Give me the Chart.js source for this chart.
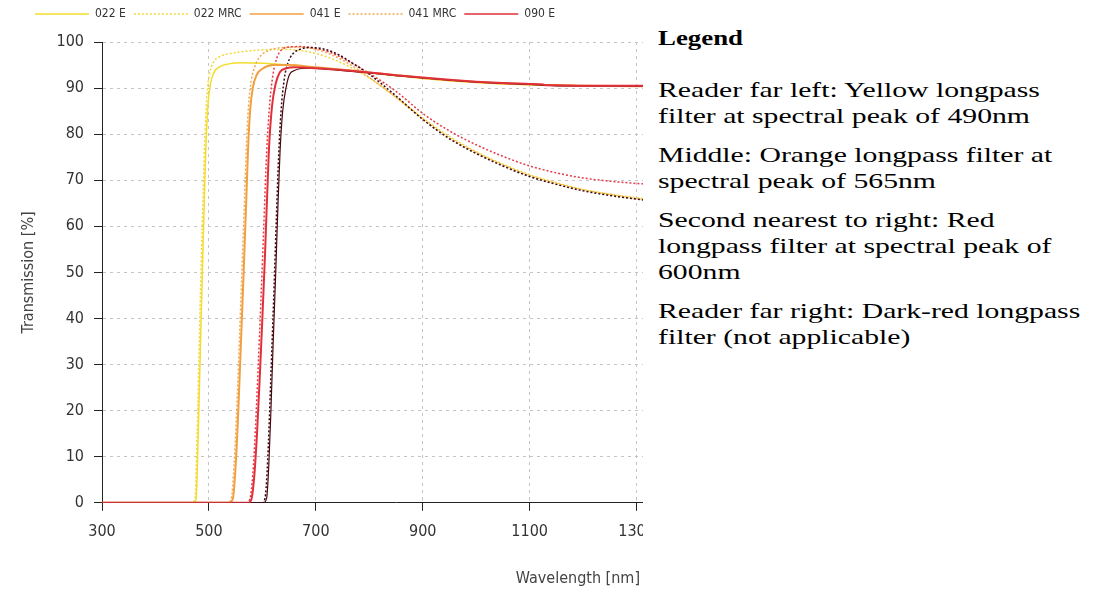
<!DOCTYPE html>
<html>
<head>
<meta charset="utf-8">
<script src="https://cdn.jsdelivr.net/npm/chart.js@4.4.1/dist/chart.umd.min.js"></script>
<style>
  html, body { margin: 0; padding: 0; background: #fff; }
  body { width: 1103px; height: 592px; position: relative; overflow: hidden; }
  #chartWrap { position: absolute; left: 0; top: 0; width: 643px; height: 592px; overflow: hidden; }
  #chart { position: absolute; left: 0; top: 0; }
  #xTitle { position: absolute; right: 3px; top: 568px; font-family: 'DejaVu Sans Condensed', 'Liberation Sans Narrow', sans-serif; font-size: 16px; color: #444; white-space: nowrap; }
  .txt { position: absolute; left: 658px; font-family: 'Liberation Serif', 'Times New Roman', serif; font-size: 22px; line-height: 26px; color: #000; white-space: nowrap; transform: scaleX(1.35); transform-origin: 0 0; }
  .txt.hd { font-weight: bold; transform: scaleX(1.22); }
</style>
</head>
<body>
<div id="chartWrap">
  <canvas id="chart" width="700" height="592"></canvas>
  <div id="xTitle">Wavelength [nm]</div>
</div>
<div class="txt hd" style="top:25px">Legend</div>
<div class="txt" style="top:77px">Reader far left: Yellow longpass<br>filter at spectral peak of 490nm</div>
<div class="txt" style="top:142px">Middle: Orange longpass filter at<br>spectral peak of 565nm</div>
<div class="txt" style="top:207px">Second nearest to right: Red<br>longpass filter at spectral peak of<br>600nm</div>
<div class="txt" style="top:298px">Reader far right: Dark-red longpass<br>filter (not applicable)</div>
<script>
// ---- data (wavelength nm, transmission %) ----
const seriesNames = ['022 E', '022 MRC', '041 E', '041 MRC', '090 E', '090 MRC', '091 E', '091 MRC'];
const xTicks = [300, 500, 700, 900, 1100, 1300];
const yTicks = [0, 10, 20, 30, 40, 50, 60, 70, 80, 90, 100];

const wl022E  = [300, 470, 476, 480, 485, 490, 494, 498, 503, 510, 520, 535, 560, 600, 650, 700, 750, 800, 850, 900, 950, 1000, 1050, 1100, 1150, 1200, 1300, 1400];
const t022E   = [0, 0, 0.8, 15, 38, 60, 76, 86, 91, 93.5, 94.6, 95.2, 95.5, 95.4, 95, 94.4, 93.9, 93.3, 92.7, 92.1, 91.6, 91.2, 90.9, 90.7, 90.6, 90.5, 90.4, 90.4];

const wl022M  = [300, 468, 474, 478, 483, 488, 492, 496, 501, 508, 520, 540, 570, 600, 640, 680, 720, 760, 800, 850, 900, 950, 1000, 1050, 1100, 1150, 1200, 1250, 1300, 1400];
const t022M   = [0, 0, 0.8, 15, 40, 62, 78, 88, 93, 95.5, 96.8, 97.5, 98, 98.3, 98.4, 98, 96.8, 94.8, 92.2, 88, 83.5, 79.5, 76.2, 73.5, 71.2, 69.5, 68, 67, 66.2, 65.2];

const wl041E  = [300, 538, 545, 550, 555, 560, 565, 570, 573, 577, 582, 590, 600, 620, 650, 700, 750, 800, 850, 900, 950, 1000, 1050, 1100, 1150, 1200, 1300, 1400];
const t041E   = [0, 0, 1, 8, 20, 35, 50, 66, 76, 85, 90, 93, 94.2, 95, 95, 94.5, 94, 93.4, 92.8, 92.2, 91.7, 91.3, 91, 90.8, 90.6, 90.5, 90.4, 90.4];

const wl041M  = [300, 535, 542, 547, 552, 557, 562, 567, 570, 574, 579, 587, 597, 615, 640, 670, 700, 730, 760, 800, 850, 900, 950, 1000, 1050, 1100, 1150, 1200, 1250, 1300, 1400];
const t041M   = [0, 0, 1, 8, 20, 35, 51, 67, 77, 86, 91.5, 95, 97, 98.3, 98.8, 98.9, 98.4, 97.2, 95.4, 92.3, 88, 83.3, 79.2, 76, 73.3, 71, 69.3, 67.9, 66.9, 66, 65];

const wl090E  = [300, 574, 580, 585, 590, 595, 600, 605, 612, 618, 625, 633, 645, 660, 700, 750, 800, 850, 900, 950, 1000, 1050, 1100, 1125, 1130, 1150, 1200, 1300, 1400];
const t090E   = [0, 0, 1, 6, 15, 27, 40, 54, 76, 86, 91, 93.5, 94.3, 94.5, 94.3, 93.9, 93.4, 92.8, 92.3, 91.8, 91.4, 91.1, 90.9, 90.8, 90.6, 90.6, 90.5, 90.5, 90.5];

const wl090M  = [300, 570, 577, 582, 587, 592, 597, 602, 608, 614, 620, 627, 635, 650, 670, 700, 730, 760, 800, 850, 900, 950, 1000, 1050, 1100, 1150, 1200, 1250, 1300, 1400];
const t090M   = [0, 0, 1, 6, 16, 29, 43, 58, 76, 87, 93, 96.5, 98.2, 98.9, 99, 98.6, 97.6, 95.9, 93.2, 89.3, 84.5, 80.7, 77.7, 75.2, 73.1, 71.6, 70.5, 69.8, 69.3, 68.6];

const wl091E  = [300, 602, 608, 612, 616, 620, 625, 629, 633, 638, 645, 651, 660, 670, 690, 720, 750, 800, 850, 900, 950, 1000, 1050, 1100, 1130, 1150, 1200, 1300, 1400];
const t091E   = [0, 0, 1, 8, 20, 34, 50, 64, 76, 85, 90.5, 93, 93.8, 94.2, 94.3, 94.1, 93.8, 93.3, 92.7, 92.2, 91.7, 91.3, 91, 90.8, 90.6, 90.5, 90.5, 90.4, 90.4];

const wl091M  = [300, 599, 605, 609, 613, 617, 622, 626, 630, 635, 641, 648, 656, 670, 690, 710, 740, 770, 800, 850, 900, 950, 1000, 1050, 1100, 1150, 1200, 1250, 1300, 1400];
const t091M   = [0, 0, 1, 7, 18, 31, 47, 61, 74, 85, 92, 95.5, 97.3, 98.4, 98.8, 98.6, 97.4, 95.3, 93, 88.3, 83.2, 79, 75.8, 73.1, 70.8, 69.1, 67.7, 66.7, 65.9, 64.8];

const seriesColors = ['#f2dc2c', '#f0d838', '#f0a040', '#f3a64a', '#e0303a', '#e23a48', '#4a0810', '#3a0a10'];
const seriesWidths = [1.5, 1.5, 2, 1.5, 2, 1.5, 1.2, 1.5];
const seriesOrder  = [6, 7, 2, 5, 0, 4, 1, 3];

// ---- build ----
const pairs = (xs, ys) => xs.map((x, i) => ({x: x, y: ys[i]}));
const allX = [wl022E, wl022M, wl041E, wl041M, wl090E, wl090M, wl091E, wl091M];
const allY = [t022E, t022M, t041E, t041M, t090E, t090M, t091E, t091M];

const datasets = seriesNames.map((name, i) => ({
  label: name,
  data: pairs(allX[i], allY[i]),
  borderColor: seriesColors[i],
  backgroundColor: seriesColors[i],
  borderWidth: seriesWidths[i],
  borderDash: name.indexOf('MRC') >= 0 ? [2, 2] : [],
  pointRadius: 0,
  fill: false,
  order: seriesOrder[i],
  cubicInterpolationMode: 'monotone'
}));

const FONT = "'DejaVu Sans Condensed', 'Liberation Sans Narrow', sans-serif";
Chart.defaults.font.family = FONT;

const legendGap = {
  id: 'legendGap',
  beforeLayout(chart) {
    const lg = chart.legend;
    if (lg && !lg._gapPatched) {
      const f = lg.fit;
      lg.fit = function () { f.call(this); this.height += 12; };
      lg._gapPatched = true;
    }
  }
};

const gridCommon = {
  color: '#c4c4c4',
  drawTicks: true,
  tickLength: 8,
  tickColor: '#222',
  tickBorderDash: [],
  tickWidth: 1
};

new Chart(document.getElementById('chart'), {
  type: 'line',
  data: { datasets: datasets },
  plugins: [legendGap],
  options: {
    responsive: false,
    animation: false,
    layout: { padding: { left: 27, top: 0, right: 10, bottom: 40 } },
    plugins: {
      tooltip: { enabled: false },
      legend: {
        position: 'top',
        align: 'start',
        labels: {
          usePointStyle: true,
          pointStyleWidth: 54,
          padding: 8,
          color: '#333',
          font: { size: 12, family: FONT },
          generateLabels: (chart) => chart.data.datasets.map((ds, i) => ({
            text: ds.label,
            strokeStyle: ds.borderColor,
            fillStyle: ds.borderColor,
            lineWidth: 1.5,
            lineDash: ds.borderDash,
            pointStyle: 'line',
            fontColor: '#333',
            hidden: !chart.isDatasetVisible(i),
            datasetIndex: i
          })).filter(it => it.datasetIndex < 5)
        }
      }
    },
    scales: {
      x: {
        type: 'linear',
        min: 300,
        max: 1400,
        afterBuildTicks: (s) => { s.ticks = xTicks.map(v => ({value: v})); },
        border: { display: true, color: '#222', width: 1, dash: [3, 4] },
        grid: gridCommon,
        ticks: { padding: 11, color: '#333', font: { size: 16, family: FONT }, maxRotation: 0, autoSkip: false, callback: (v) => String(v) }
      },
      y: {
        min: 0,
        max: 100,
        afterBuildTicks: (s) => { s.ticks = yTicks.map(v => ({value: v})); },
        afterFit: (s) => { s.width = 75; },
        border: { display: true, color: '#222', width: 1, dash: [3, 4] },
        grid: gridCommon,
        ticks: { padding: 10, color: '#333', font: { size: 16, family: FONT }, callback: (v) => String(v) },
        title: {
          display: true,
          text: 'Transmission [%]',
          color: '#444',
          padding: { top: -8, bottom: 0 },
          font: { size: 16, family: FONT }
        }
      }
    }
  }
});
</script>
</body>
</html>
